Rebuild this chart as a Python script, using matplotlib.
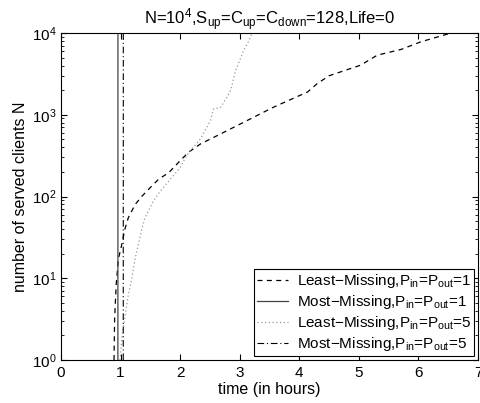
import matplotlib
matplotlib.use("Agg")
import matplotlib.pyplot as plt
import numpy as np

plt.rcParams['font.family'] = ['Liberation Sans', 'DejaVu Sans']
plt.rcParams['mathtext.fontset'] = 'custom'
plt.rcParams['mathtext.rm'] = 'Liberation Sans'
plt.rcParams['mathtext.it'] = 'Liberation Sans:italic'
plt.rcParams['mathtext.bf'] = 'Liberation Sans:bold'

# Least-Missing, Pin=Pout=1 (dashed)
lm1_t = [0.89, 0.90, 0.926, 0.965, 1.005, 1.077, 1.13, 1.245, 1.36, 1.50, 1.64, 1.81, 2.0, 2.14,
         2.34, 2.68, 3.18, 3.57, 4.14, 4.30, 4.50, 5.03, 5.31, 5.71, 6.04, 6.55]
lm1_n = [1, 3.2, 8.3, 17.6, 23, 41, 55, 80, 101, 129, 163, 196, 274, 347,
         439, 583, 891, 1240, 1900, 2400, 3000, 4040, 5360, 6300, 7800, 10000]

# Most-Missing, Pin=Pout=1 (solid)
mm1_t = [0.955, 0.956]
mm1_n = [1, 10000]

# Least-Missing, Pin=Pout=5 (dotted)
lm5_t = [0.99, 1.02, 1.077, 1.13, 1.19, 1.245, 1.30, 1.36, 1.41, 1.55, 1.67, 1.835, 2.0, 2.09, 2.17,
         2.34, 2.51, 2.56, 2.68, 2.79, 2.85, 2.93, 3.07, 3.13, 3.21]
lm5_n = [1, 1.8, 3.5, 6.3, 10, 17.6, 26, 41, 55, 88, 117, 163, 225, 300, 363,
         505, 850, 1175, 1230, 1660, 2000, 3470, 6200, 7400, 10000]

# Most-Missing, Pin=Pout=5 (dash-dot)
mm5_t = [1.045, 1.046]
mm5_n = [1, 10000]

labels = ['Least\u2212Missing,P$_{\\rm in}$=P$_{\\rm out}$=1',
          'Most\u2212Missing,P$_{\\rm in}$=P$_{\\rm out}$=1',
          'Least\u2212Missing,P$_{\\rm in}$=P$_{\\rm out}$=5',
          'Most\u2212Missing,P$_{\\rm in}$=P$_{\\rm out}$=5']

fig = plt.figure(figsize=(4.81, 4.03), dpi=100)
ax = fig.add_axes([61/481, 43/403, 417/481, 327/403])

ax.plot(lm1_t, lm1_n, color='black', linestyle=(0, (4, 3.5)), linewidth=0.9, label=labels[0])
ax.plot(mm1_t, mm1_n, color='#444444', linestyle='-', linewidth=0.9, label=labels[1])
ax.plot(lm5_t, lm5_n, color='#999999', linestyle=(0, (1, 2)), linewidth=0.9, label=labels[2])
ax.plot(mm5_t, mm5_n, color='black', linestyle=(0, (6, 2.5, 1, 2.5)), linewidth=0.8, label=labels[3])

ax.set_yscale('log')
ax.set_xlim(0, 7)
ax.set_ylim(1, 1e4)
ax.set_xticks(range(8))
ax.tick_params(which='both', direction='in', top=True, right=True, labelsize=11)
ax.tick_params(which='major', length=4)
ax.tick_params(axis='x', which='major', pad=4)
ax.tick_params(axis='y', which='major', pad=3)
ax.tick_params(which='minor', length=2)
ax.set_xlabel('time (in hours)', fontsize=11.5, labelpad=2)
ax.set_ylabel('number of served clients N', fontsize=11.5, labelpad=3)
ax.set_title('N=10$^{4}$,S$_{\\rm up}$=C$_{\\rm up}$=C$_{\\rm down}$=128,Life=0', fontsize=12, pad=3)

leg = ax.legend(loc='lower right', fontsize=11, frameon=True, fancybox=False,
                edgecolor='black', framealpha=1, handlelength=2.0, handletextpad=0.6,
                borderpad=0.2, labelspacing=0.2, borderaxespad=0.25)
leg.get_frame().set_linewidth(0.8)

fig.savefig('out.png', dpi=100)
